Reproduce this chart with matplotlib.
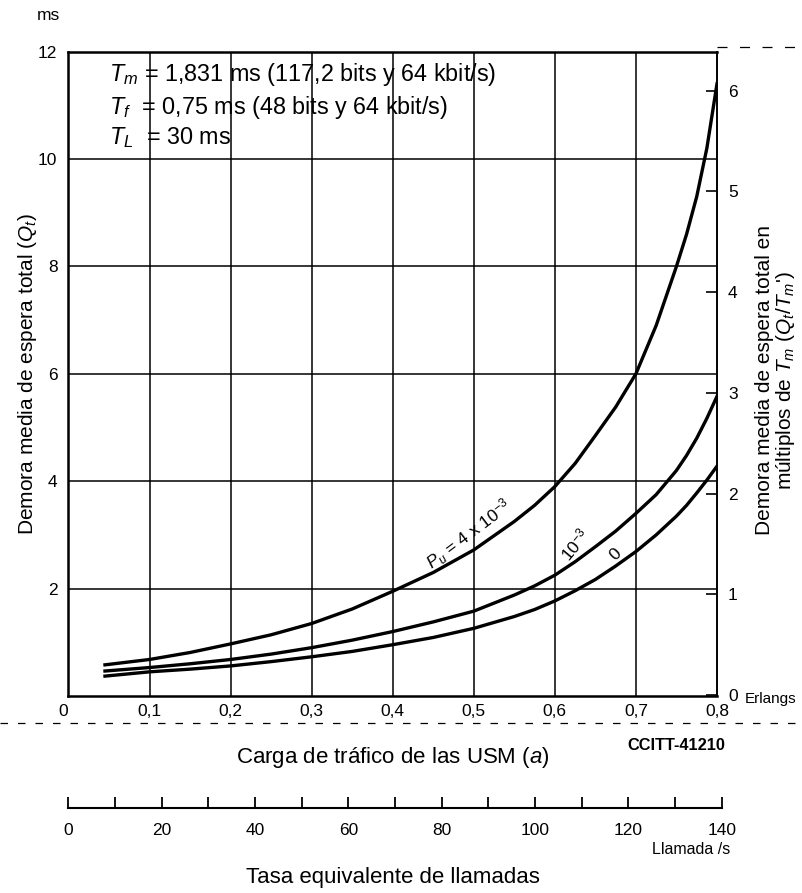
import numpy as np
import matplotlib
matplotlib.use("Agg")
import matplotlib.pyplot as plt
from matplotlib.lines import Line2D

plt.rcParams['font.family'] = ['Liberation Sans', 'DejaVu Sans']
plt.rcParams['mathtext.fontset'] = 'custom'
plt.rcParams['mathtext.rm'] = 'Liberation Sans'
plt.rcParams['mathtext.it'] = 'Liberation Sans:italic'

# traffic load (Erlangs) and mean total waiting time (ms)
carga = [0.045, 0.1, 0.15, 0.2, 0.25, 0.3, 0.35, 0.4, 0.45, 0.5, 0.55, 0.575, 0.6, 0.625, 0.65,
         0.675, 0.7, 0.725, 0.75, 0.7625, 0.775, 0.7875, 0.8]
pu_4e3 = [0.58, 0.68, 0.81, 0.97, 1.14, 1.35, 1.62, 1.95, 2.3, 2.72, 3.25, 3.55, 3.9, 4.33, 4.85,
          5.38, 6.0, 6.9, 8.0, 8.6, 9.3, 10.2, 11.4]
pu_1e3 = [0.465, 0.53, 0.6, 0.68, 0.78, 0.9, 1.04, 1.2, 1.38, 1.58, 1.88, 2.05, 2.25, 2.5, 2.78,
          3.07, 3.4, 3.75, 4.2, 4.48, 4.8, 5.17, 5.58]
pu_0 = [0.37, 0.45, 0.5, 0.56, 0.64, 0.73, 0.83, 0.955, 1.09, 1.26, 1.48, 1.61, 1.77, 1.96, 2.17,
        2.42, 2.69, 3.0, 3.35, 3.55, 3.78, 4.02, 4.28]

xticks = [0, 0.1, 0.2, 0.3, 0.4, 0.5, 0.6, 0.7, 0.8]
xticklabels = ["0", "0,1", "0,2", "0,3", "0,4", "0,5", "0,6", "0,7", "0,8"]
yticks = [2, 4, 6, 8, 10, 12]
rticks = [0, 1, 2, 3, 4, 5, 6]
llamadas_major = [0, 20, 40, 60, 80, 100, 120, 140]
llamadas_minor = [10, 30, 50, 70, 90, 110, 130]

W, H = 803, 893
fig = plt.figure(figsize=(W / 100, H / 100), dpi=100)

L, R, T, B = 68.5, 717, 51.5, 696
ax = fig.add_axes([L / W, 1 - B / H, (R - L) / W, (B - T) / H])
ax.set_xlim(0, 0.8)
ax.set_ylim(0, 12)

for xv in xticks[1:-1]:
    ax.axvline(xv, color="black", lw=1.1, zorder=1)
for yv in yticks[:-1]:
    ax.axhline(yv, color="black", lw=1.1, zorder=1)

ax.plot(carga, pu_4e3, color="black", lw=2.4, zorder=3)
ax.plot(carga, pu_1e3, color="black", lw=2.4, zorder=3)
ax.plot(carga, pu_0, color="black", lw=2.4, zorder=3)

for s in ["left", "bottom", "top"]:
    ax.spines[s].set_linewidth(1.8)
ax.spines["right"].set_linewidth(1.2)

ax.set_xticks(xticks)
ax.set_xticklabels(xticklabels, fontsize=12.5)
ax.get_xticklabels()[0].set_ha("right")
ax.set_yticks(yticks)
ax.set_yticklabels([str(v) for v in yticks], fontsize=12.5)
ax.tick_params(axis="both", length=0, pad=8)
ax.tick_params(axis="x", pad=6)

ax.set_ylabel(r"Demora media de espera total ($Q_t$)", fontsize=15)
ax.yaxis.set_label_coords(-0.046, 0.5)

ax.text(0.05, 11.58, r"$T_m$ = 1,831 ms (117,2 bits y 64 kbit/s)", fontsize=16.8, va="center")
ax.text(0.05, 10.95, r"$T_f$  = 0,75 ms (48 bits y 64 kbit/s)", fontsize=16.8, va="center")
ax.text(0.05, 10.4, r"$T_L$  = 30 ms", fontsize=16.8, va="center")

ax.text(0.494, 3.0, r"$P_u$ = 4 x 10$^{-3}$", fontsize=12.5, rotation=37, ha="center", va="center")
ax.text(0.625, 2.82, r"10$^{-3}$", fontsize=12.5, rotation=50, ha="center", va="center")
ax.text(0.675, 2.63, "0", fontsize=12.5, rotation=45, ha="center", va="center")

ax2 = ax.twinx()
ax2.set_ylim(-0.01, 6.39)
ax2.set_yticks(rticks)
ax2.set_yticklabels([str(v) for v in rticks], fontsize=12.5)
ax2.tick_params(axis="y", direction="in", length=8, width=1.2, pad=8)
for s in ["left", "bottom", "top"]:
    ax2.spines[s].set_visible(False)
ax2.spines["right"].set_linewidth(1.2)
ax2.set_ylabel("Demora media de espera total en\n" + r"múltiplos de $T_m$ ($Q_t$/$T_m$')",
               fontsize=15, linespacing=1.0)
ax2.yaxis.set_label_coords(1.058, 0.49)

fig.text(745 / W, 1 - 699 / H, "Erlangs", fontsize=11, va="center")
fig.text(37 / W, 1 - 16 / H, "ms", fontsize=12.5, va="center")

fig.text(393 / W, 1 - 757 / H, r"Carga de tráfico de las USM ($a$)", fontsize=16, ha="center", va="center")
fig.text(725 / W, 1 - 745 / H, "CCITT-41210", fontsize=11.8, fontweight="bold", ha="right", va="center")

# secondary scale: equivalent call rate
sx0, sx1, sy = 68.3, 721.7, 807.7
ax3 = fig.add_axes([sx0 / W, 1 - sy / H, (sx1 - sx0) / W, 0.001])
ax3.set_xlim(0, 140)
ax3.set_ylim(0, 1)
for s in ["left", "right", "top"]:
    ax3.spines[s].set_visible(False)
ax3.spines["bottom"].set_linewidth(1.5)
ax3.set_yticks([])
ax3.set_xticks(llamadas_major)
ax3.set_xticks(llamadas_minor, minor=True)
ax3.set_xticklabels([str(v) for v in llamadas_major], fontsize=12.5)
ax3.tick_params(axis="x", which="both", direction="in", length=8, width=1.3, pad=11)
ax3.patch.set_visible(False)

fig.text(730 / W, 1 - 850 / H, "Llamada /s", fontsize=11.5, ha="right", va="center")
fig.text(393 / W, 1 - 877 / H, "Tasa equivalente de llamadas", fontsize=16, ha="center", va="center")

# broken scan lines at the top right and below the x labels
fig.add_artist(Line2D([0, 1], [1 - 723 / H, 1 - 723 / H], color="black", lw=0.9,
                      ls=(0, (6, 8)), transform=fig.transFigure))
fig.add_artist(Line2D([R / W, 1], [1 - 47 / H, 1 - 47 / H], color="black", lw=0.9,
                      ls=(0, (8, 10)), transform=fig.transFigure))

fig.savefig("out.png", dpi=100)
